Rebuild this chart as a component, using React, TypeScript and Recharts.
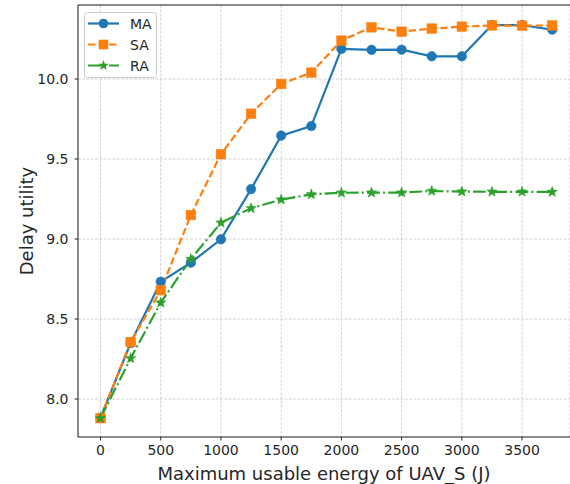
import React from 'react';
import { LineChart, Line, XAxis, YAxis, CartesianGrid, ReferenceLine } from 'recharts';

const energy = [0, 250, 500, 750, 1000, 1250, 1500, 1750, 2000, 2250, 2500, 2750, 3000, 3250, 3500, 3750];
const maValues = [7.883, 8.35, 8.733, 8.852, 8.998, 9.312, 9.646, 9.706, 10.188, 10.182, 10.183, 10.142, 10.142, 10.337, 10.337, 10.308];
const saValues = [7.88, 8.356, 8.68, 9.15, 9.53, 9.783, 9.969, 10.04, 10.24, 10.323, 10.296, 10.315, 10.327, 10.335, 10.333, 10.335];
const raValues = [7.88, 8.254, 8.602, 8.875, 9.102, 9.192, 9.246, 9.279, 9.289, 9.29, 9.29, 9.3, 9.296, 9.295, 9.295, 9.294];
const xTicks = [0, 500, 1000, 1500, 2000, 2500, 3000, 3500];
const yTicks = [8.0, 8.5, 9.0, 9.5, 10.0];
const seriesNames = ['MA', 'SA', 'RA'];

const data = energy.map((e, i) => ({ e, MA: maValues[i], SA: saValues[i], RA: raValues[i] }));

const BLUE = '#1f77b4';
const ORANGE = '#ff7f0e';
const GREEN = '#2ca02c';
const FONT = 'DejaVu Sans';
const TXT = '#262626';

const starPath = (cx: number, cy: number, r: number) => {
  const pts: string[] = [];
  for (let k = 0; k < 10; k++) {
    const rr = k % 2 === 0 ? r : r * 0.42;
    const a = -Math.PI / 2 + (k * Math.PI) / 5;
    pts.push(`${(cx + rr * Math.cos(a)).toFixed(2)},${(cy + rr * Math.sin(a)).toFixed(2)}`);
  }
  return 'M' + pts.join('L') + 'Z';
};

const CircleDot = (p: any) => <circle key={p.index} cx={p.cx} cy={p.cy} r={4.8} fill={BLUE} stroke={BLUE} strokeWidth={0.5} />;
const SquareDot = (p: any) => <rect key={p.index} x={p.cx - 4.8} y={p.cy - 4.8} width={9.6} height={9.6} fill={ORANGE} stroke={ORANGE} strokeWidth={0.5} />;
const StarDot = (p: any) => <path key={p.index} d={starPath(p.cx, p.cy, 5.5)} fill={GREEN} stroke={GREEN} strokeWidth={0.5} />;

const LegendBox = () => {
  const rows = [
    { name: seriesNames[0], color: BLUE, dash: undefined as string | undefined, marker: 'c' },
    { name: seriesNames[1], color: ORANGE, dash: '7.4 3.2', marker: 's' },
    { name: seriesNames[2], color: GREEN, dash: '12.8 3.2 2 3.2', marker: 'st' },
  ];
  return (
    <svg width={74} height={67} style={{ display: 'block' }}>
      <rect x={0.5} y={0.5} width={72} height={65} rx={3} fill="white" fillOpacity={0.8} stroke="#cccccc" />
      {rows.map((r, i) => {
        const y = 11.5 + i * 21;
        return (
          <g key={r.name}>
            <line x1={4} x2={35} y1={y} y2={y} stroke={r.color} strokeWidth={2.2} strokeDasharray={r.dash} />
            {r.marker === 'c' && <circle cx={19.5} cy={y} r={4.8} fill={r.color} />}
            {r.marker === 's' && <rect x={14.7} y={y - 4.8} width={9.6} height={9.6} fill={r.color} />}
            {r.marker === 'st' && <path d={starPath(19.5, y, 5.5)} fill={r.color} />}
            <text x={46} y={y + 5} fontSize={14} fontFamily={FONT} fill={TXT}>{r.name}</text>
          </g>
        );
      })}
    </svg>
  );
};

export default function App() {
  return (
    <div style={{ position: 'absolute', left: 0, top: 0, width: 570, height: 484, background: 'white' }}>
      <LineChart width={570} height={484} data={data} margin={{ top: 5, right: 0, bottom: 0, left: 0 }}>
        <CartesianGrid stroke="#c8c8c8" strokeDasharray="3 1.3" strokeWidth={0.8} />
        <XAxis
          dataKey="e"
          type="number"
          domain={[-187, 3898]}
          ticks={xTicks}
          allowDataOverflow
          height={47}
          stroke={TXT}
          tickSize={3.5}
          tickMargin={5}
          tick={{ fontSize: 14, fontFamily: FONT, fill: TXT }}
          label={{ value: 'Maximum usable energy of UAV_S (J)', position: 'insideBottom', offset: 4, fontSize: 18, fontFamily: FONT, fill: TXT }}
        />
        <YAxis
          type="number"
          domain={[7.7625, 10.4625]}
          ticks={yTicks}
          allowDataOverflow
          width={78}
          stroke={TXT}
          tickSize={3.5}
          tickMargin={6}
          tickFormatter={(v: number) => v.toFixed(1)}
          tick={{ fontSize: 14, fontFamily: FONT, fill: TXT }}
          label={{ value: 'Delay utility', angle: -90, position: 'insideLeft', offset: 27, style: { textAnchor: 'middle' }, fontSize: 18, fontFamily: FONT, fill: TXT }}
        />
        <ReferenceLine y={10.4625} stroke={TXT} strokeWidth={1} ifOverflow="extendDomain" />
        <Line type="linear" dataKey="MA" stroke={BLUE} strokeWidth={2.2} dot={CircleDot} activeDot={false} isAnimationActive={false} />
        <Line type="linear" dataKey="SA" stroke={ORANGE} strokeWidth={2.2} strokeDasharray="7.4 3.2" dot={SquareDot} activeDot={false} isAnimationActive={false} />
        <Line type="linear" dataKey="RA" stroke={GREEN} strokeWidth={2.2} strokeDasharray="12.8 3.2 2 3.2" dot={StarDot} activeDot={false} isAnimationActive={false} />
      </LineChart>
      <div style={{ position: 'absolute', left: 84, top: 12 }}>
        <LegendBox />
      </div>
    </div>
  );
}
